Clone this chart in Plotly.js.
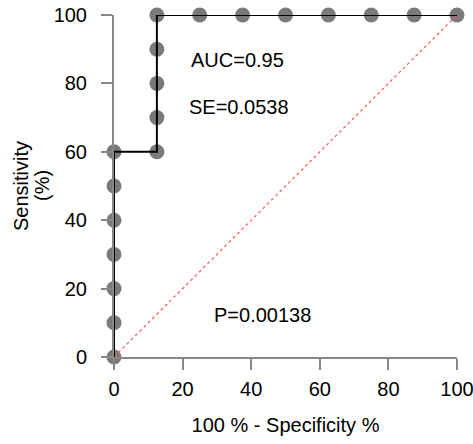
<!DOCTYPE html>
<html>
<head>
<meta charset="utf-8">
<script src="https://cdn.plot.ly/plotly-3.0.1.min.js"></script>
<style>html,body{margin:0;padding:0;background:#fff;}#chart{width:473px;height:444px;}</style>
</head>
<body>
<div id="chart"></div>
<script>
// ROC curve points (100 - specificity %, sensitivity %)
const fpr = [0, 0, 0, 0, 0, 0, 0, 12.5, 12.5, 12.5, 12.5, 12.5, 25, 37.5, 50, 62.5, 75, 87.5, 100];
const tpr = [0, 10, 20, 30, 40, 50, 60, 60, 70, 80, 90, 100, 100, 100, 100, 100, 100, 100, 100];
const refX = [0, 100];
const refY = [0, 100];
const tickVals = [0, 20, 40, 60, 80, 100];
const tickText = ["0", "20", "40", "60", "80", "100"];
const noteText = ["AUC=0.95", "SE=0.0538", "P=0.00138"];
const noteX = [36.1, 36.4, 43.4];
const noteY = [86.8, 73.2, 12.2];
const xTitle = "100 % - Specificity %";
const yTitleLines = ["Sensitivity", "(%)"];

const font = {family: "Liberation Sans, Arial, sans-serif", size: 20, color: "#000"};

const traces = [
  {x: fpr, y: tpr, mode: "markers", type: "scatter",
   marker: {size: 15, color: "#7a7a7a"}, cliponaxis: false, hoverinfo: "skip"},
  {x: refX, y: refY, mode: "lines", type: "scatter",
   line: {color: "#ff5a4a", width: 1.2, dash: "dot"}, cliponaxis: false},
  {x: fpr, y: tpr, mode: "lines", type: "scatter",
   line: {color: "#000", width: 2}, cliponaxis: false}
];

const axisCommon = {
  range: [0, 100], tickvals: tickVals, ticktext: tickText,
  showgrid: false, zeroline: false, showline: true,
  linecolor: "#888", linewidth: 2,
  ticks: "outside", ticklen: 11, tickwidth: 2, tickcolor: "#888",
  tickfont: font, fixedrange: true, ticklabeloverflow: "allow"
};

const annotations = noteText.map((t, i) => ({
  text: t, x: noteX[i], y: noteY[i], xref: "x", yref: "y",
  showarrow: false, font: font, xanchor: "center", yanchor: "middle"
}));
const yTitleShift = [-93, -72];
yTitleLines.forEach((t, i) => annotations.push({
  text: t, x: 0, y: 0.5, xref: "paper", yref: "paper",
  xanchor: "center", yanchor: "middle", textangle: -90,
  xshift: yTitleShift[i], showarrow: false, font: font
}));

const layout = {
  width: 473, height: 444,
  margin: {l: 114, r: 16, t: 15, b: 87},
  paper_bgcolor: "#fff", plot_bgcolor: "#fff",
  showlegend: false,
  font: font,
  xaxis: Object.assign({}, axisCommon, {
    ticklabelstandoff: 2,
    title: {text: xTitle, font: font, standoff: 19}
  }),
  yaxis: Object.assign({}, axisCommon, {
    ticklabelstandoff: 10
  }),
  annotations: annotations
};

Plotly.newPlot("chart", traces, layout, {displayModeBar: false, staticPlot: true});
</script>
</body>
</html>
